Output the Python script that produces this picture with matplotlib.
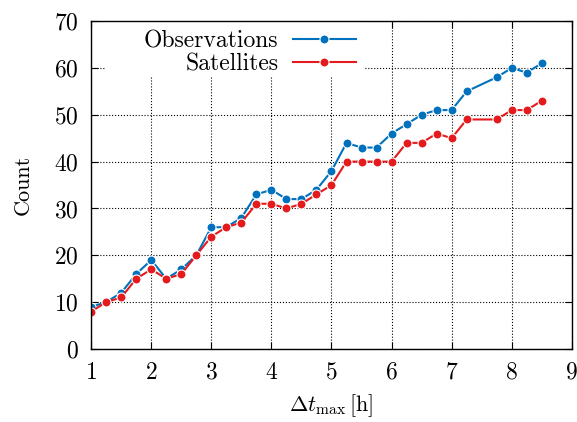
import numpy as np
import matplotlib.pyplot as plt
from matplotlib.patches import Rectangle

plt.rcParams['font.family'] = 'cmr10'
plt.rcParams['mathtext.fontset'] = 'cm'
plt.rcParams['axes.formatter.use_mathtext'] = True

# Data
dt_max = [1.0, 1.25, 1.5, 1.75, 2.0, 2.25, 2.5, 2.75, 3.0, 3.25, 3.5, 3.75,
          4.0, 4.25, 4.5, 4.75, 5.0, 5.25, 5.5, 5.75, 6.0, 6.25, 6.5, 6.75,
          7.0, 7.25, 7.75, 8.0, 8.25, 8.5]
observations = [9, 10, 12, 16, 19, 15, 17, 20, 26, 26, 28, 33,
                34, 32, 32, 34, 38, 44, 43, 43, 46, 48, 50, 51,
                51, 55, 58, 60, 59, 61]
satellites = [8, 10, 11, 15, 17, 15, 16, 20, 24, 26, 27, 31,
              31, 30, 31, 33, 35, 40, 40, 40, 40, 44, 44, 46,
              45, 49, 49, 51, 51, 53]

fig = plt.figure(figsize=(5.77, 4.22), dpi=100)
ax = fig.add_axes([0.158, 0.173, 0.833, 0.777])

ax.plot(dt_max, observations, '-o', color='#0072bd', lw=1.5, ms=6.5,
        mec='white', mew=0.8, label='Observations', zorder=3)
ax.plot(dt_max, satellites, '-o', color='#e41a1c', lw=1.5, ms=6.5,
        mec='white', mew=0.8, label='Satellites', zorder=3)

ax.set_xlim(1, 9)
ax.set_ylim(0, 70)
ax.set_xticks(range(1, 10))
ax.set_yticks(range(0, 71, 10))
ax.grid(True, color='black', linestyle=':', linewidth=0.8)
ax.tick_params(direction='in', top=True, right=True, labelsize=17, length=5, pad=9)
for s in ax.spines.values():
    s.set_linewidth(1.0)
    s.set_zorder(6)

ax.set_xlabel(r'$\Delta t_\mathrm{max}\,$[h]', fontsize=16, labelpad=6)
ax.set_ylabel('Count', fontsize=16, labelpad=15)

# white key box (covers the grid, like gnuplot's opaque key)
ax.add_patch(Rectangle((0.029, 0.832), 0.541, 0.168, transform=ax.transAxes,
                       facecolor='white', edgecolor='none', zorder=2.5))

leg = ax.legend(loc='upper right', bbox_to_anchor=(0.570, 1.0),
                markerfirst=False, fontsize=17, handlelength=2.65,
                frameon=False, borderaxespad=0, labelspacing=0.02,
                handletextpad=0.62, borderpad=0.4)
leg.set_zorder(5)

fig.savefig('out.png', dpi=100)
